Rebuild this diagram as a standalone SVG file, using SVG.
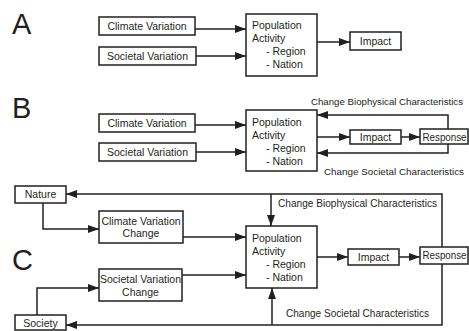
<svg xmlns="http://www.w3.org/2000/svg" width="469" height="331" viewBox="0 0 469 331">
<defs>
<marker id="ah" markerWidth="11" markerHeight="8" refX="11" refY="4" orient="auto" markerUnits="userSpaceOnUse"><path d="M0,0 L11,4 L0,8 z" fill="#231f20"/></marker>
<style>
.box{fill:#fff;stroke:#231f20;stroke-width:1.5}
.t{font-family:"Liberation Sans",Arial,sans-serif;font-size:10.5px;fill:#231f20}
.s{font-size:9.6px}
.c{text-anchor:middle}
.big{font-family:"Liberation Sans",Arial,sans-serif;font-size:29px;fill:#231f20}
.ln{fill:none;stroke:#231f20;stroke-width:1.5}
.ar{marker-end:url(#ah)}
</style>
</defs>
<rect width="469" height="331" fill="#fff"/>
<text class="big" x="12" y="34">A</text>
<text class="big" x="12" y="118">B</text>
<text class="big" x="12" y="270">C</text>

<g id="connectors">
<path class="ln ar" d="M195,29 H246"/>
<path class="ln ar" d="M196,56 H246"/>
<path class="ln ar" d="M317,42 H350"/>

<path class="ln ar" d="M195,125 H246"/>
<path class="ln ar" d="M196,152 H246"/>
<path class="ln ar" d="M317,137 H350"/>
<path class="ln ar" d="M401,137 H420"/>
<path class="ln ar" d="M448,129 V115 H317"/>
<path class="ln ar" d="M448,144 V153 H317"/>

<path class="ln ar" d="M442,247 V194 H66"/>
<path class="ln ar" d="M271,194 V226"/>
<path class="ln ar" d="M43,203 V229 H99"/>
<path class="ln ar" d="M183,237 H246"/>
<path class="ln ar" d="M182,275 H246"/>
<path class="ln ar" d="M37,315 V288 H99"/>
<path class="ln ar" d="M442,264 V325 H66"/>
<path class="ln ar" d="M272,325 V288"/>
<path class="ln ar" d="M317,257 H348"/>
<path class="ln ar" d="M399,257 H420"/>
</g>

<g id="a-climate"><rect class="box" x="99" y="17" width="96" height="18"/><text class="t c" x="147" y="30">Climate Variation</text></g>
<g id="a-societal"><rect class="box" x="99" y="47" width="97" height="18"/><text class="t c" x="147.5" y="60">Societal Variation</text></g>
<g id="a-pop"><rect class="box" x="246" y="14" width="71" height="62"/><text class="t" x="252" y="29">Population</text><text class="t" x="252" y="42">Activity</text><text class="t" x="266" y="55">- Region</text><text class="t" x="266" y="68">- Nation</text></g>
<g id="a-impact"><rect class="box" x="350" y="32" width="51" height="18"/><text class="t c" x="375.5" y="45">Impact</text></g>

<g id="b-climate"><rect class="box" x="99" y="114" width="96" height="18"/><text class="t c" x="147" y="127">Climate Variation</text></g>
<g id="b-societal"><rect class="box" x="99" y="143" width="97" height="18"/><text class="t c" x="147.5" y="156">Societal Variation</text></g>
<g id="b-pop"><rect class="box" x="246" y="110" width="71" height="61"/><text class="t" x="252" y="126">Population</text><text class="t" x="252" y="139">Activity</text><text class="t" x="266" y="152">- Region</text><text class="t" x="266" y="165">- Nation</text></g>
<g id="b-impact"><rect class="box" x="350" y="130" width="51" height="14"/><text class="t c" x="375.5" y="141">Impact</text></g>
<g id="b-response"><rect class="box" x="420" y="129" width="48" height="15"/><text class="t" x="422.5" y="141" textLength="44" lengthAdjust="spacingAndGlyphs">Response</text></g>
<text class="t s" x="311" y="105" textLength="152" lengthAdjust="spacingAndGlyphs">Change Biophysical Characteristics</text>
<text class="t s" x="324" y="175" textLength="140" lengthAdjust="spacingAndGlyphs">Change Societal Characteristics</text>

<g id="c-nature"><rect class="box" x="15" y="186" width="51" height="17"/><text class="t c" x="40.5" y="198">Nature</text></g>
<g id="c-climate"><rect class="box" x="99" y="211" width="84" height="32"/><text class="t c" x="141" y="225">Climate Variation</text><text class="t c" x="141" y="237">Change</text></g>
<g id="c-societal"><rect class="box" x="99" y="269" width="83" height="32"/><text class="t c" x="140.5" y="283">Societal Variation</text><text class="t c" x="140.5" y="296">Change</text></g>
<g id="c-society"><rect class="box" x="15" y="315" width="51" height="15"/><text class="t c" x="40.5" y="327">Society</text></g>
<g id="c-pop"><rect class="box" x="246" y="226" width="71" height="62"/><text class="t" x="252" y="242">Population</text><text class="t" x="252" y="255">Activity</text><text class="t" x="266" y="268">- Region</text><text class="t" x="266" y="281">- Nation</text></g>
<g id="c-impact"><rect class="box" x="348" y="249" width="51" height="16"/><text class="t c" x="373.5" y="261">Impact</text></g>
<g id="c-response"><rect class="box" x="420" y="247" width="48" height="17"/><text class="t" x="422.5" y="259" textLength="44" lengthAdjust="spacingAndGlyphs">Response</text></g>
<text class="t" x="278" y="207" font-size="10" textLength="159" lengthAdjust="spacingAndGlyphs">Change Biophysical Characteristics</text>
<text class="t" x="286" y="317" font-size="10" textLength="143" lengthAdjust="spacingAndGlyphs">Change Societal Characteristics</text>
</svg>
